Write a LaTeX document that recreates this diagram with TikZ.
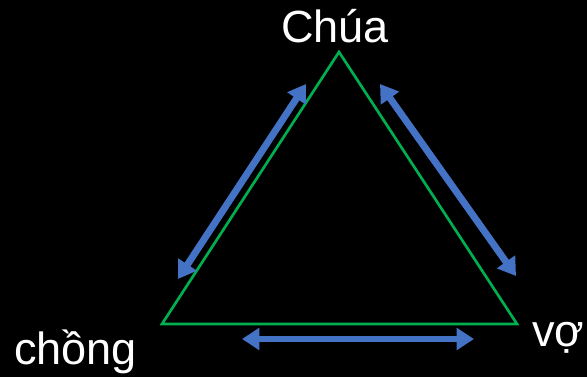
\documentclass[tikz,border=0pt]{standalone}
\usepackage{fontspec}
\setmainfont{Liberation Sans}
\usepackage{xcolor}
\usetikzlibrary{arrows.meta,positioning}
\definecolor{linkblue}{HTML}{4472C4}
\definecolor{sidegreen}{HTML}{00B050}

\begin{document}
\begin{tikzpicture}[
  x=0.75pt, y=-0.75pt,
  label/.style={text=white, inner sep=0pt, anchor=base west,
    font=\fontsize{33.8}{40}\selectfont},
  side/.style={draw=sidegreen, line width=2pt},
  link/.style={{Triangle[width=16pt,length=13pt]}-{Triangle[width=16pt,length=13pt]},
    draw=linkblue, fill=linkblue, line width=5.2pt}
]
% black page
\fill[black] (0,0) rectangle (587,377);
\useasboundingbox (0,0) rectangle (587,377);
% triangle corners
\coordinate (god) at (339,52);
\coordinate (husband) at (162,324);
\coordinate (wife) at (517,324);
\draw[side] (god) -- (husband) -- (wife) -- cycle;
% labels
\node[label] (godlbl) at (281,43) {Chúa};
\node[label] (husbandlbl) at (14,365) {chồng};
\node[label] (wifelbl) at (532,347) {vợ};
% arrow ends
\coordinate (gh1) at (178,279);
\coordinate (gh2) at (306,84);
\coordinate (gw1) at (380,84);
\coordinate (gw2) at (516,276);
\coordinate (hw1) at (242,339);
\coordinate (hw2) at (474,339);
\draw[link] (gh1) -- (gh2);
\draw[link] (gw1) -- (gw2);
\draw[link] (hw1) -- (hw2);
\end{tikzpicture}
\end{document}
